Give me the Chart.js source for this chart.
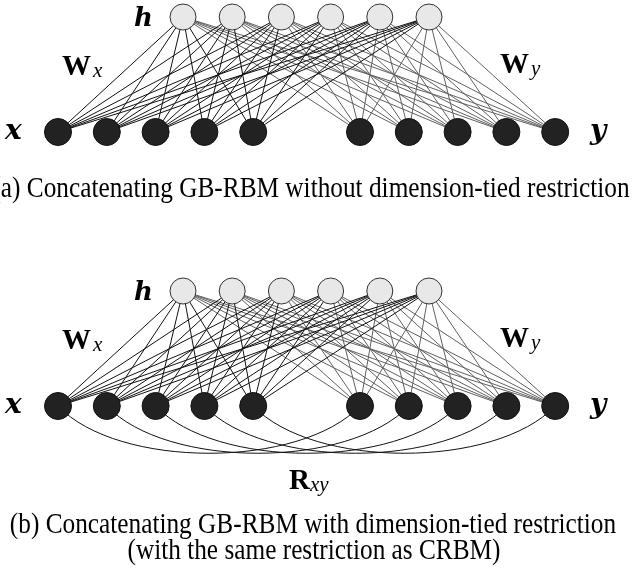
<!DOCTYPE html>
<html>
<head>
<meta charset="utf-8">
<script src="https://cdn.jsdelivr.net/npm/chart.js@4.4.1/dist/chart.umd.min.js"></script>
<style>
  html, body { margin: 0; padding: 0; background: #fff; }
  #wrap { width: 634px; height: 574px; position: relative; }
</style>
</head>
<body>
<div id="wrap"><canvas id="rbmChart"></canvas></div>
<script>
// units of the two layers
var hiddenUnits = ['h1', 'h2', 'h3', 'h4', 'h5', 'h6'];
var xUnits = ['x1', 'x2', 'x3', 'x4', 'x5'];
var yUnits = ['y1', 'y2', 'y3', 'y4', 'y5'];
// panels: (a) without, (b) with the dimension-tied restriction x_i <-> y_i
var panels = ['a', 'b'];
var tiedPairs = [[0, 0], [1, 1], [2, 2], [3, 3], [4, 4]];
var captionA = ['(a) Concatenating GB-RBM without dimension-tied restriction'];
var captionB = ['(b) Concatenating GB-RBM with dimension-tied restriction', '(with the same restriction as CRBM)'];

// layout (pixels of the 634x574 canvas used as axis units)
var layout = {
  hiddenX0: 183, hiddenStep: 49.2,
  xX0: 58, yX0: 360, visStep: 48.8,
  rows: { a: { top: 17, bottom: 132 }, b: { top: 291, bottom: 406 } }
};
function hx(i) { return layout.hiddenX0 + i * layout.hiddenStep; }
function xx(i) { return layout.xX0 + i * layout.visStep; }
function yx(i) { return layout.yX0 + i * layout.visStep; }

var datasets = [];

panels.forEach(function (p) {
  var row = layout.rows[p];
  // W_y edges (grey), drawn lowest
  hiddenUnits.forEach(function (h, i) {
    yUnits.forEach(function (v, j) {
      datasets.push({
        type: 'line', order: 3,
        data: [{ x: hx(i), y: row.top }, { x: yx(j), y: row.bottom }],
        borderColor: '#606060', borderWidth: 1, pointRadius: 0, fill: false
      });
    });
  });
  // W_x edges (black)
  hiddenUnits.forEach(function (h, i) {
    xUnits.forEach(function (v, j) {
      datasets.push({
        type: 'line', order: 2,
        data: [{ x: hx(i), y: row.top }, { x: xx(j), y: row.bottom }],
        borderColor: '#111', borderWidth: 1, pointRadius: 0, fill: false
      });
    });
  });
  // hidden units
  datasets.push({
    type: 'scatter', order: 0,
    data: hiddenUnits.map(function (h, i) { return { x: hx(i), y: row.top }; }),
    pointRadius: 13, pointBackgroundColor: '#e8e8e8', pointBorderColor: '#333', pointBorderWidth: 1
  });
  // visible units
  datasets.push({
    type: 'scatter', order: 0,
    data: xUnits.map(function (v, i) { return { x: xx(i), y: row.bottom }; })
      .concat(yUnits.map(function (v, i) { return { x: yx(i), y: row.bottom }; })),
    pointRadius: 13.5, pointBackgroundColor: '#222', pointBorderColor: '#111', pointBorderWidth: 1
  });
});

// R_xy arcs and all the labels
var diagramPlugin = {
  id: 'diagram',
  beforeDatasetsDraw: function (chart) {
    var ctx = chart.ctx, sx = chart.scales.x, sy = chart.scales.y;
    function P(x, y) { return [sx.getPixelForValue(x), sy.getPixelForValue(y)]; }
    ctx.save();
    // arcs under the visible units of panel (b)
    var b = layout.rows.b.bottom;
    ctx.strokeStyle = '#111';
    ctx.lineWidth = 1;
    tiedPairs.forEach(function (pr) {
      var a0 = P(xx(pr[0]), b), c1 = P(xx(pr[0]) + 60, b + 63),
          c2 = P(yx(pr[1]) - 60, b + 63), a1 = P(yx(pr[1]), b);
      ctx.beginPath();
      ctx.moveTo(a0[0], a0[1]);
      ctx.bezierCurveTo(c1[0], c1[1], c2[0], c2[1], a1[0], a1[1]);
      ctx.stroke();
    });
    ctx.restore();
  },
  afterDraw: function (chart) {
    var ctx = chart.ctx, sx = chart.scales.x, sy = chart.scales.y;
    function P(x, y) { return [sx.getPixelForValue(x), sy.getPixelForValue(y)]; }
    ctx.save();
    ctx.fillStyle = '#000';
    ctx.textBaseline = 'alphabetic';
    panels.forEach(function (p) {
      var row = layout.rows[p];
      ctx.textAlign = 'left';
      ctx.font = 'italic bold 26px "DejaVu Serif"';
      var q = P(134, row.top + 9); ctx.fillText('h', q[0], q[1]);
      ctx.font = 'italic bold 28px "DejaVu Serif"';
      q = P(5, row.bottom + 7); ctx.fillText('x', q[0], q[1]);
      q = P(590, row.bottom + 7); ctx.fillText('y', q[0], q[1]);
      ctx.font = 'bold 29px "Liberation Serif"';
      q = P(62, row.top + 58); ctx.fillText('W', q[0], q[1]);
      q = P(500, row.top + 56); ctx.fillText('W', q[0], q[1]);
      ctx.font = 'italic 21px "Liberation Serif"';
      q = P(93, row.top + 60); ctx.fillText('x', q[0], q[1]);
      q = P(531, row.top + 58); ctx.fillText('y', q[0], q[1]);
    });
    var q;
    ctx.font = 'bold 29px "Liberation Serif"';
    q = P(289, 489); ctx.fillText('R', q[0], q[1]);
    ctx.font = 'italic 21px "Liberation Serif"';
    q = P(310, 491); ctx.fillText('xy', q[0], q[1]);

    // captions: the source text is a little taller than wide
    ctx.font = '25.3px "Liberation Serif"';
    ctx.textAlign = 'center';
    function cap(text, x, y) {
      var r = P(x, y);
      ctx.save();
      ctx.translate(r[0], r[1]);
      ctx.scale(1, 1.15);
      ctx.fillText(text, 0, 0);
      ctx.restore();
    }
    cap(captionA[0], 311, 197);
    cap(captionB[0], 313, 533);
    cap(captionB[1], 314, 559);
    ctx.restore();
  }
};

new Chart(document.getElementById('rbmChart'), {
  type: 'scatter',
  data: { datasets: datasets },
  options: {
    responsive: true,
    maintainAspectRatio: false,
    animation: false,
    layout: { padding: 0, autoPadding: false },
    plugins: { legend: { display: false }, tooltip: { enabled: false } },
    elements: { line: { tension: 0 } },
    datasets: { line: { clip: false }, scatter: { clip: false } },
    scales: {
      x: { type: 'linear', min: 0, max: 634, display: false },
      y: { type: 'linear', min: 0, max: 574, reverse: true, display: false }
    }
  },
  plugins: [diagramPlugin]
});
</script>
</body>
</html>
